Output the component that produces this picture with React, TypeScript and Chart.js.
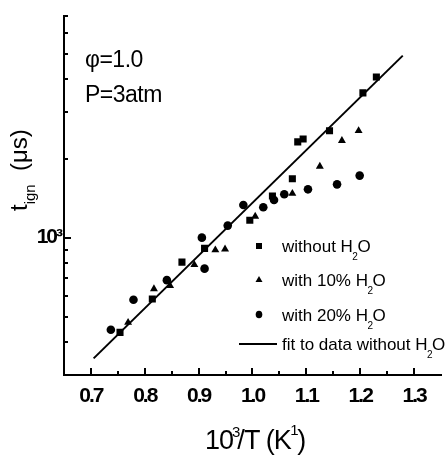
import React, { useEffect, useRef } from 'react';
import { Chart, registerables } from 'chart.js';

Chart.register(...registerables);

// ---- data ----
const invTNoH2O = [0.754, 0.814, 0.869, 0.911, 0.995, 1.037, 1.074, 1.084, 1.094, 1.143, 1.205, 1.230];
const tignNoH2O = [436, 584, 807, 910, 1164, 1440, 1675, 2314, 2375, 2551, 3557, 4090];

const invT10 = [0.769, 0.817, 0.847, 0.892, 0.931, 0.949, 1.005, 1.074, 1.125, 1.166, 1.197];
const tign10 = [475, 638, 656, 788, 897, 904, 1205, 1472, 1867, 2340, 2551];

const invT20 = [0.737, 0.779, 0.841, 0.906, 0.911, 0.954, 0.983, 1.020, 1.040, 1.059, 1.103, 1.157, 1.199];
const tign20 = [446, 580, 689, 1000, 762, 1111, 1331, 1305, 1390, 1463, 1527, 1595, 1722];

const fitInvT = [0.705, 1.279];
const fitTign = [347, 4930];

const seriesNames = ['without H2O', 'with 10% H2O', 'with 20% H2O', 'fit to data without H2O'];

const xTickValues = [0.7, 0.8, 0.9, 1.0, 1.1, 1.2, 1.3];
const xTickLabels = ['0.7', '0.8', '0.9', '1.0', '1.1', '1.2', '1.3'];
const xMinorTicks = [0.75, 0.85, 0.95, 1.05, 1.15, 1.25];
const yTickValues = [1000];
const yTickLabels = ['10³'];
const yMinorTicks = [400, 500, 600, 700, 800, 900, 2000, 3000, 4000, 5000, 6000, 7000];

const annotationLines = ['φ=1.0', 'P=3atm'];

const FONT = "'Liberation Sans', Arial, Helvetica, sans-serif";

type Seg = { t: string; size: number; dy?: number; dx?: number; weight?: string };

function drawRich(ctx: CanvasRenderingContext2D, x: number, y: number, segs: Seg[], spacing = 0) {
  let cx = x;
  (ctx as any).letterSpacing = `${spacing}px`;
  for (const s of segs) {
    cx += s.dx ?? 0;
    ctx.font = `${s.weight ?? 'normal'} ${s.size}px ${FONT}`;
    ctx.fillText(s.t, cx, y + (s.dy ?? 0));
    cx += ctx.measureText(s.t).width;
  }
  (ctx as any).letterSpacing = '0px';
  return cx;
}

// split "H2O" into H, subscript 2, O
function chemSegs(text: string, size: number, subSize: number, subDy: number): Seg[] {
  const parts = text.split('H2O');
  const segs: Seg[] = [];
  parts.forEach((p, i) => {
    if (p) segs.push({ t: p, size });
    if (i < parts.length - 1) {
      segs.push({ t: 'H', size });
      segs.push({ t: '2', size: subSize, dy: subDy, dx: -0.5 });
      segs.push({ t: 'O', size, dx: -0.5 });
    }
  });
  return segs;
}

const decorPlugin = {
  id: 'decor',
  beforeDraw(chart: any) {
    // condensed look of the axis numbers
    (chart.ctx as any).letterSpacing = '-2px';
  },
  afterDraw(chart: any) {
    const ctx: CanvasRenderingContext2D = chart.ctx;
    (ctx as any).letterSpacing = '0px';
    const xs = chart.scales.x;
    const ys = chart.scales.y;
    const { left, bottom } = chart.chartArea;
    ctx.save();
    ctx.strokeStyle = '#000';
    ctx.fillStyle = '#000';
    ctx.lineCap = 'butt';

    // inward tick marks
    const seg = (x1: number, y1: number, x2: number, y2: number, w: number) => {
      ctx.lineWidth = w;
      ctx.beginPath();
      ctx.moveTo(x1, y1);
      ctx.lineTo(x2, y2);
      ctx.stroke();
    };
    xTickValues.forEach((v) => { const p = Math.round(xs.getPixelForValue(v)); seg(p, bottom, p, bottom - 7, 2); });
    xMinorTicks.forEach((v) => { const p = Math.round(xs.getPixelForValue(v)); seg(p, bottom, p, bottom - 4, 2); });
    yTickValues.forEach((v) => { const p = Math.round(ys.getPixelForValue(v)); seg(left, p, left + 7, p, 2); });
    yMinorTicks.forEach((v) => { const p = Math.round(ys.getPixelForValue(v)); seg(left, p, left + 4, p, 2); });

    ctx.textBaseline = 'alphabetic';
    ctx.textAlign = 'left';

    // annotations
    drawRich(ctx, 85, 67, [{ t: annotationLines[0], size: 23 }], -0.5);
    drawRich(ctx, 85, 101.5, [{ t: annotationLines[1], size: 23 }], -0.5);

    // x axis title: 10^3/T (K^1)
    drawRich(ctx, 205, 449, [
      { t: '10', size: 27 },
      { t: '3', size: 15, dy: -12, dx: -1 },
      { t: '/T (K', size: 27, dx: -2 },
      { t: '1', size: 15, dy: -14, dx: -0.5 },
      { t: ')', size: 27, dx: -0.5 },
    ], -1);

    // y axis title: t_ign (μs), rotated
    ctx.save();
    ctx.translate(27, 211);
    ctx.rotate(-Math.PI / 2);
    drawRich(ctx, 0, 0, [
      { t: 't', size: 24 },
      { t: 'ign', size: 15, dy: 8 },
      { t: '  (μs)', size: 24 },
    ], 0);
    ctx.restore();

    // legend
    const mx = 259;
    const rows = [246, 279.5, 314.5, 344];
    // square
    ctx.fillRect(mx - 3, rows[0] - 3, 6, 6);
    // triangle
    ctx.beginPath();
    ctx.moveTo(mx, rows[1] - 3.5);
    ctx.lineTo(mx + 3.5, rows[1] + 2.5);
    ctx.lineTo(mx - 3.5, rows[1] + 2.5);
    ctx.closePath();
    ctx.fill();
    // circle
    ctx.beginPath();
    ctx.ellipse(mx, rows[2], 3.3, 3.8, 0, 0, Math.PI * 2);
    ctx.fill();
    // line
    seg(239, rows[3], 277, rows[3], 2);

    seriesNames.forEach((name, i) => {
      drawRich(ctx, 282, rows[i] + 6, chemSegs(name, 17, 10, 8), 0);
    });

    ctx.restore();
  },
};

export default function App() {
  const ref = useRef<HTMLCanvasElement>(null);

  useEffect(() => {
    const canvas = ref.current;
    if (!canvas) return;
    const mk = (xs: number[], ys: number[]) => xs.map((x, i) => ({ x, y: ys[i] }));
    const chart = new Chart(canvas, {
      type: 'scatter',
      data: {
        datasets: [
          {
            label: seriesNames[0],
            data: mk(invTNoH2O, tignNoH2O),
            pointStyle: 'rect',
            pointRadius: 5,
            pointBackgroundColor: '#000',
            pointBorderWidth: 0,
            borderColor: '#000',
          },
          {
            label: seriesNames[1],
            data: mk(invT10, tign10),
            pointStyle: 'triangle',
            pointRadius: 4.6,
            pointBackgroundColor: '#000',
            pointBorderWidth: 0,
            borderColor: '#000',
          },
          {
            label: seriesNames[2],
            data: mk(invT20, tign20),
            pointStyle: 'circle',
            pointRadius: 4.3,
            pointBackgroundColor: '#000',
            pointBorderWidth: 0,
            borderColor: '#000',
          },
          {
            label: seriesNames[3],
            data: mk(fitInvT, fitTign),
            showLine: true,
            pointRadius: 0,
            borderColor: '#000',
            borderWidth: 2,
            fill: false,
          } as any,
        ],
      },
      options: {
        responsive: false,
        animation: false,
        events: [],
        layout: { padding: { top: 8, left: 0, right: 0, bottom: 0 } },
        plugins: { legend: { display: false }, tooltip: { enabled: false } },
        scales: {
          x: {
            type: 'linear',
            min: 0.65,
            max: 1.35,
            afterBuildTicks: (s: any) => { s.ticks = xTickValues.map((v) => ({ value: v })); },
            afterFit: (s: any) => { s.height = 80; },
            grid: { display: false, drawTicks: false, tickLength: 0 },
            border: { display: true, color: '#000', width: 2 },
            ticks: {
              autoSkip: false,
              maxRotation: 0,
              minRotation: 0,
              padding: 9,
              color: '#000',
              font: { family: FONT, size: 21, weight: 'bold' },
              callback: (_v: any, i: number) => xTickLabels[i],
            },
          },
          y: {
            type: 'logarithmic',
            min: 300,
            max: 7000,
            afterBuildTicks: (s: any) => { s.ticks = yTickValues.map((v) => ({ value: v })); },
            afterFit: (s: any) => { s.width = 64; },
            grid: { display: false, drawTicks: false, tickLength: 0 },
            border: { display: true, color: '#000', width: 2 },
            ticks: {
              autoSkip: false,
              padding: 3,
              color: '#000',
              font: { family: FONT, size: 21, weight: 'bold' },
              callback: (_v: any, i: number) => yTickLabels[i],
            },
          },
        },
      },
      plugins: [decorPlugin],
    } as any);
    return () => chart.destroy();
  }, []);

  return (
    <div style={{ position: 'absolute', left: 0, top: 0, width: 446, height: 455, background: '#fff' }}>
      <canvas ref={ref} width={446} height={455} style={{ display: 'block', width: 446, height: 455 }} />
    </div>
  );
}
